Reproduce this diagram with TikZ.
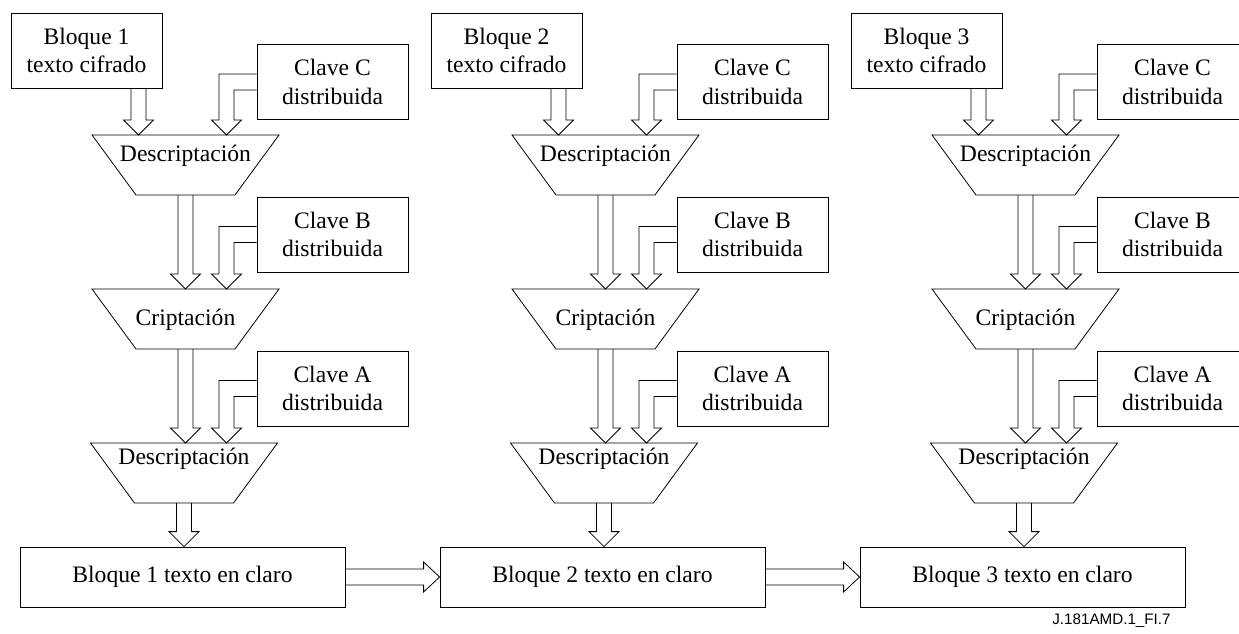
\documentclass[tikz,border=0pt]{standalone}
\usepackage{fontspec}
\setmainfont{Liberation Serif}
\newfontfamily\figidfont{Liberation Sans}
\usetikzlibrary{calc, positioning}
\newcommand{\txt}{\fontsize{11.8}{14.2}\selectfont}
\tikzset{
    line width=0.6pt,
    blockbox/.style = {draw, minimum width=75.5pt, minimum height=37.5pt, inner sep=0pt, align=center}, % text and key boxes
    plainbox/.style = {draw, minimum width=162.5pt, minimum height=30pt, inner sep=0pt}, % plain text blocks
    optext/.style = {inner sep=0pt}, % label inside a funnel
    fat/.style = {draw, line join=miter}
}
% straight block arrow: #1 start, #2 tip
\newcommand{\fatdown}[2]{%
  \draw[fat] let \p1=#1, \p2=#2 in
    (\x2-3.75pt,\y1) -- (\x2-3.75pt,\y2+7.5pt) -- (\x2-7.5pt,\y2+7.5pt) -- (\x2,\y2)
    -- (\x2+7.5pt,\y2+7.5pt) -- (\x2+3.75pt,\y2+7.5pt) -- (\x2+3.75pt,\y1);
}
% elbow block arrow: #1 side of key box, #2 tip
\newcommand{\fatelbow}[2]{%
  \draw[fat] let \p1=#1, \p2=#2 in
    (\x1,\y1+4pt) -- (\x2-3.75pt,\y1+4pt) -- (\x2-3.75pt,\y2+7.5pt) -- (\x2-7.5pt,\y2+7.5pt) -- (\x2,\y2)
    -- (\x2+7.5pt,\y2+7.5pt) -- (\x2+3.75pt,\y2+7.5pt) -- (\x2+3.75pt,\y1-4pt) -- (\x1,\y1-4pt);
}
% horizontal block arrow: #1 start, #2 tip
\newcommand{\fatright}[2]{%
  \draw[fat] let \p1=#1, \p2=#2 in
    (\x1,\y2+4pt) -- (\x2-8pt,\y2+4pt) -- (\x2-8pt,\y2+7.5pt) -- (\x2,\y2)
    -- (\x2-8pt,\y2-7.5pt) -- (\x2-8pt,\y2-4pt) -- (\x1,\y2-4pt);
}
% funnel: #1 name, #2 x centre, #3 y of top edge, #4 text drop, #5 text
\newcommand{\funnel}[5]{%
  \coordinate (#1-top) at (#2,#3);
  \coordinate (#1-bot) at (#2,#3+60);
  \draw (#2-93.5,#3) -- (#2+93.5,#3) -- (#2+49.5,#3+60) -- (#2-49.5,#3+60) -- cycle;
  \node[optext] (#1) at (#2,#3+#4) {#5};
}

\begin{document}
\begin{tikzpicture}
  [
    x=0.5pt, y=-0.5pt,
    every node/.style={font=\txt}
  ]
  \useasboundingbox (0,0) rectangle (1239,633);
  \foreach \i in {1,2,3} {
    \pgfmathsetmacro{\dx}{420*(\i-1)}
    \node[blockbox] (cif\i) at (86.5+\dx,50.5) {Bloque \i\\texto cifrado};
    \node[blockbox] (keyC\i) at (332.5+\dx,82) {Clave C\\distribuida};
    \node[blockbox] (keyB\i) at (332.5+\dx,234.5) {Clave B\\distribuida};
    \node[blockbox] (keyA\i) at (332.5+\dx,388.5) {Clave A\\distribuida};
    \funnel{decC\i}{185.5+\dx}{135}{20.5}{Descriptación}
    \funnel{encB\i}{185.5+\dx}{289}{30.5}{Criptación}
    \funnel{decA\i}{184+\dx}{443}{16}{Descriptación}
    \node[plainbox] (clear\i) at (182.5+\dx,577) {Bloque \i{} texto en claro};
    % arrows of one column
    \fatdown{(cif\i.south)}{($(decC\i-top)+(-47,0)$)}
    \fatelbow{(keyC\i.west)}{($(decC\i-top)+(41,0)$)}
    \fatdown{(decC\i-bot)}{(encB\i-top)}
    \fatelbow{(keyB\i.west)}{($(encB\i-top)+(41,0)$)}
    \fatdown{(encB\i-bot)}{($(decA\i-top)+(1.5,0)$)}
    \fatelbow{(keyA\i.west)}{($(decA\i-top)+(42.5,0)$)}
    \fatdown{(decA\i-bot)}{(decA\i-bot |- clear\i.north)}
  }
  \fatright{(clear1.east)}{(clear2.west)}
  \fatright{(clear2.east)}{(clear3.west)}
  \node[font=\figidfont\fontsize{7.6}{9}\selectfont, anchor=east, inner sep=0pt] (figid) at (1171,621) {J.181AMD.1\_FI.7};
\end{tikzpicture}
\end{document}
